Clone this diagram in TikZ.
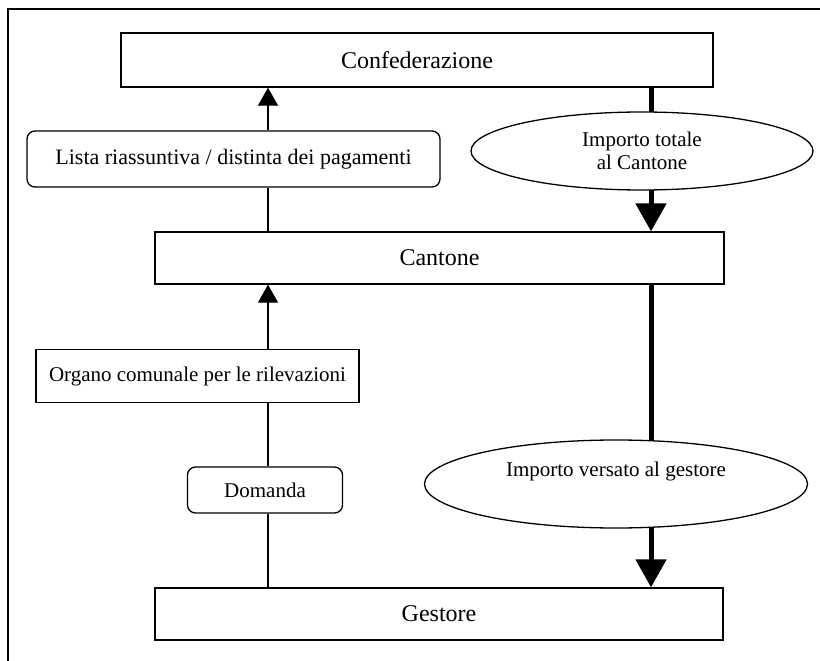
\documentclass[tikz,border=0pt]{standalone}
\usepackage{fontspec}
\setmainfont{Liberation Serif}
\usetikzlibrary{arrows.meta,shapes.geometric}
\begin{document}
\begin{tikzpicture}[x=1pt,y=-1pt,
  every node/.style={font=\fontsize{21}{23}\selectfont},
  big/.style={font=\fontsize{24}{26}\selectfont},
  mid/.style={font=\fontsize{22}{24}\selectfont},
  box/.style={draw, line width=1.3pt, inner sep=0pt, align=center},
  rbox/.style={box, rounded corners=8pt},
  oval/.style={ellipse, draw, fill=white, line width=1.3pt, inner sep=0pt, align=center},
  arr/.style={line width=1.2pt, -{Triangle[width=20pt,length=18pt]}},
  bigarr/.style={line width=5pt, -{Triangle[width=30pt,length=28pt]}},
  link/.style={line width=1.2pt}]
\useasboundingbox (0,0) rectangle (820,661);
\draw[line width=1.3pt] (8,661) -- (8,9) -- (820,9);
\coordinate (lx) at (268,0);
\coordinate (rx) at (651,0);
% boxes
\node[box, big, minimum width=592pt, minimum height=54pt] (conf) at (417,60) {Confederazione};
\node[rbox, mid, minimum width=413pt, minimum height=56pt] (lista) at (233.5,159) {Lista riassuntiva / distinta dei pagamenti};
\node[box, big, minimum width=569pt, minimum height=52pt] (cant) at (439.5,258) {Cantone};
\node[box, minimum width=323pt, minimum height=53pt] (organo) at (197.5,376) {Organo comunale per le rilevazioni};
\node[rbox, minimum width=155pt, minimum height=46pt] (dom) at (265,490) {Domanda};
\node[box, big, minimum width=568pt, minimum height=52pt] (gest) at (439,614) {Gestore};
% thin connectors
\draw[arr] (lista.north -| lx) -- (conf.south -| lx);
\draw[link] (cant.north -| lx) -- (lista.south -| lx);
\draw[arr] (organo.north -| lx) -- (cant.south -| lx);
\draw[link] (organo.south -| lx) -- (dom.north -| lx);
\draw[link] (dom.south -| lx) -- (gest.north -| lx);
% thick connectors
\draw[bigarr] (conf.south -| rx) -- (cant.north -| rx);
\draw[bigarr] (cant.south -| rx) -- (gest.north -| rx);
% ovals
\node[oval, minimum width=342pt, minimum height=78pt] (imp1) at (642,151) {Importo totale\\al Cantone};
\node[oval, minimum width=383pt, minimum height=88pt] (imp2) at (616,484) {Importo versato al gestore\\\strut};
\end{tikzpicture}
\end{document}
